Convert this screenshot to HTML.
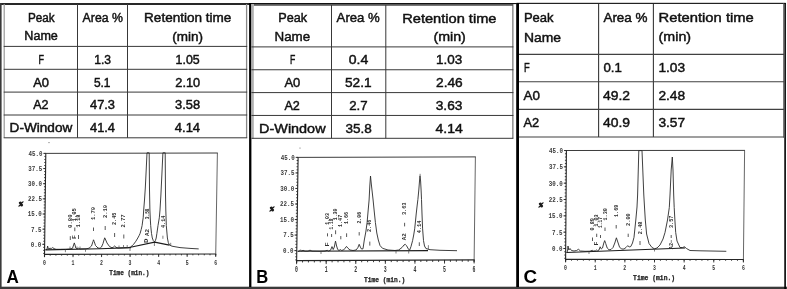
<!DOCTYPE html>
<html><head><meta charset="utf-8"><title>Figure</title>
<style>html,body{margin:0;padding:0;background:#fff;}svg{display:block;}</style></head>
<body><svg width="787" height="289" viewBox="0 0 787 289">
<rect x="0" y="0" width="787" height="289" fill="#fff"/>
<rect x="0.00" y="3.10" width="250.00" height="1.80" fill="#111"/>
<rect x="250.00" y="3.00" width="266.50" height="1.10" fill="#111"/>
<rect x="253.50" y="4.00" width="259.50" height="1.80" fill="#585858"/>
<rect x="516.50" y="2.80" width="269.20" height="1.20" fill="#222"/>
<rect x="0.00" y="3.10" width="1.60" height="285.90" fill="#3a3a3a"/>
<rect x="0.00" y="286.70" width="787.00" height="2.30" fill="#3a3a3a"/>
<rect x="784.30" y="3.00" width="1.60" height="286.00" fill="#000"/>
<rect x="783.10" y="3.50" width="1.20" height="134.10" fill="#6a6a6a"/>
<rect x="249.10" y="3.00" width="2.30" height="284.00" fill="#000"/>
<rect x="516.20" y="3.00" width="2.80" height="284.00" fill="#000"/>
<line x1="4.20" y1="4.00" x2="4.20" y2="137.80" stroke="#999" stroke-width="1.2"/>
<line x1="246.60" y1="4.00" x2="246.60" y2="137.80" stroke="#888" stroke-width="1.3"/>
<line x1="77.50" y1="4.00" x2="77.50" y2="137.80" stroke="#383838" stroke-width="1.0"/>
<line x1="127.50" y1="4.00" x2="127.50" y2="137.80" stroke="#383838" stroke-width="1.0"/>
<line x1="3.70" y1="46.40" x2="247.20" y2="46.40" stroke="#383838" stroke-width="1.0"/>
<line x1="3.70" y1="69.30" x2="247.20" y2="69.30" stroke="#383838" stroke-width="1.0"/>
<line x1="3.70" y1="92.10" x2="247.20" y2="92.10" stroke="#383838" stroke-width="1.0"/>
<line x1="3.70" y1="115.00" x2="247.20" y2="115.00" stroke="#383838" stroke-width="1.0"/>
<line x1="3.70" y1="137.80" x2="247.20" y2="137.80" stroke="#383838" stroke-width="1.0"/>
<text x="27.90" y="21.60" font-family='"Liberation Sans", sans-serif' font-weight="normal" font-size="12.3" fill="#111" textLength="26.68" lengthAdjust="spacingAndGlyphs" stroke="#111" stroke-width="0.45">Peak</text>
<text x="24.30" y="40.30" font-family='"Liberation Sans", sans-serif' font-weight="normal" font-size="12.3" fill="#111" textLength="33.59" lengthAdjust="spacingAndGlyphs" stroke="#111" stroke-width="0.45">Name</text>
<text x="82.60" y="21.60" font-family='"Liberation Sans", sans-serif' font-weight="normal" font-size="12.3" fill="#111" textLength="40.30" lengthAdjust="spacingAndGlyphs" stroke="#111" stroke-width="0.45">Area %</text>
<text x="144.10" y="21.60" font-family='"Liberation Sans", sans-serif' font-weight="normal" font-size="12.3" fill="#111" textLength="87.20" lengthAdjust="spacingAndGlyphs" stroke="#111" stroke-width="0.45">Retention time</text>
<text x="172.30" y="40.50" font-family='"Liberation Sans", sans-serif' font-weight="normal" font-size="12.3" fill="#111" textLength="30.71" lengthAdjust="spacingAndGlyphs" stroke="#111" stroke-width="0.45">(min)</text>
<text x="38.50" y="63.60" font-family='"Liberation Sans", sans-serif' font-weight="normal" font-size="12.3" fill="#111" textLength="5.50" lengthAdjust="spacingAndGlyphs" stroke="#111" stroke-width="0.45">F</text>
<text x="94.20" y="63.60" font-family='"Liberation Sans", sans-serif' font-weight="normal" font-size="12.3" fill="#111" textLength="16.80" lengthAdjust="spacingAndGlyphs" stroke="#111" stroke-width="0.45">1.3</text>
<text x="175.60" y="63.60" font-family='"Liberation Sans", sans-serif' font-weight="normal" font-size="12.3" fill="#111" textLength="24.10" lengthAdjust="spacingAndGlyphs" stroke="#111" stroke-width="0.45">1.05</text>
<text x="33.20" y="86.50" font-family='"Liberation Sans", sans-serif' font-weight="normal" font-size="12.3" fill="#111" textLength="15.80" lengthAdjust="spacingAndGlyphs" stroke="#111" stroke-width="0.45">A0</text>
<text x="93.90" y="86.50" font-family='"Liberation Sans", sans-serif' font-weight="normal" font-size="12.3" fill="#111" textLength="16.60" lengthAdjust="spacingAndGlyphs" stroke="#111" stroke-width="0.45">5.1</text>
<text x="175.30" y="86.50" font-family='"Liberation Sans", sans-serif' font-weight="normal" font-size="12.3" fill="#111" textLength="24.80" lengthAdjust="spacingAndGlyphs" stroke="#111" stroke-width="0.45">2.10</text>
<text x="33.20" y="109.30" font-family='"Liberation Sans", sans-serif' font-weight="normal" font-size="12.3" fill="#111" textLength="15.30" lengthAdjust="spacingAndGlyphs" stroke="#111" stroke-width="0.45">A2</text>
<text x="90.00" y="109.30" font-family='"Liberation Sans", sans-serif' font-weight="normal" font-size="12.3" fill="#111" textLength="25.00" lengthAdjust="spacingAndGlyphs" stroke="#111" stroke-width="0.45">47.3</text>
<text x="175.10" y="109.30" font-family='"Liberation Sans", sans-serif' font-weight="normal" font-size="12.3" fill="#111" textLength="25.00" lengthAdjust="spacingAndGlyphs" stroke="#111" stroke-width="0.45">3.58</text>
<text x="9.60" y="132.40" font-family='"Liberation Sans", sans-serif' font-weight="normal" font-size="12.3" fill="#111" textLength="62.66" lengthAdjust="spacingAndGlyphs" stroke="#111" stroke-width="0.45">D-Window</text>
<text x="90.00" y="132.40" font-family='"Liberation Sans", sans-serif' font-weight="normal" font-size="12.3" fill="#111" textLength="25.00" lengthAdjust="spacingAndGlyphs" stroke="#111" stroke-width="0.45">41.4</text>
<text x="174.80" y="132.40" font-family='"Liberation Sans", sans-serif' font-weight="normal" font-size="12.3" fill="#111" textLength="25.30" lengthAdjust="spacingAndGlyphs" stroke="#111" stroke-width="0.45">4.14</text>
<rect x="251.40" y="4.00" width="2.40" height="134.80" fill="#b0b0b0"/>
<line x1="512.90" y1="4.00" x2="512.90" y2="138.30" stroke="#555" stroke-width="1.0"/>
<line x1="331.50" y1="5.00" x2="331.50" y2="138.30" stroke="#383838" stroke-width="1.0"/>
<line x1="385.80" y1="5.00" x2="385.80" y2="138.30" stroke="#383838" stroke-width="1.0"/>
<line x1="251.40" y1="46.90" x2="513.40" y2="46.90" stroke="#383838" stroke-width="1.0"/>
<line x1="251.40" y1="69.75" x2="513.40" y2="69.75" stroke="#383838" stroke-width="1.0"/>
<line x1="251.40" y1="92.60" x2="513.40" y2="92.60" stroke="#383838" stroke-width="1.0"/>
<line x1="251.40" y1="115.45" x2="513.40" y2="115.45" stroke="#383838" stroke-width="1.0"/>
<line x1="251.40" y1="138.30" x2="513.40" y2="138.30" stroke="#383838" stroke-width="1.0"/>
<text x="278.20" y="22.30" font-family='"Liberation Sans", sans-serif' font-weight="normal" font-size="13.1" fill="#111" textLength="28.88" lengthAdjust="spacingAndGlyphs" stroke="#111" stroke-width="0.45">Peak</text>
<text x="274.50" y="41.00" font-family='"Liberation Sans", sans-serif' font-weight="normal" font-size="13.1" fill="#111" textLength="35.69" lengthAdjust="spacingAndGlyphs" stroke="#111" stroke-width="0.45">Name</text>
<text x="336.60" y="22.40" font-family='"Liberation Sans", sans-serif' font-weight="normal" font-size="13.1" fill="#111" textLength="43.20" lengthAdjust="spacingAndGlyphs" stroke="#111" stroke-width="0.45">Area %</text>
<text x="402.20" y="22.50" font-family='"Liberation Sans", sans-serif' font-weight="normal" font-size="13.1" fill="#111" textLength="94.30" lengthAdjust="spacingAndGlyphs" stroke="#111" stroke-width="0.45">Retention time</text>
<text x="433.40" y="40.90" font-family='"Liberation Sans", sans-serif' font-weight="normal" font-size="13.1" fill="#111" textLength="32.41" lengthAdjust="spacingAndGlyphs" stroke="#111" stroke-width="0.45">(min)</text>
<text x="289.90" y="64.10" font-family='"Liberation Sans", sans-serif' font-weight="normal" font-size="13.1" fill="#111" textLength="5.30" lengthAdjust="spacingAndGlyphs" stroke="#111" stroke-width="0.45">F</text>
<text x="348.80" y="64.10" font-family='"Liberation Sans", sans-serif' font-weight="normal" font-size="13.1" fill="#111" textLength="19.50" lengthAdjust="spacingAndGlyphs" stroke="#111" stroke-width="0.45">0.4</text>
<text x="436.00" y="64.10" font-family='"Liberation Sans", sans-serif' font-weight="normal" font-size="13.1" fill="#111" textLength="26.20" lengthAdjust="spacingAndGlyphs" stroke="#111" stroke-width="0.45">1.03</text>
<text x="284.40" y="87.30" font-family='"Liberation Sans", sans-serif' font-weight="normal" font-size="13.1" fill="#111" textLength="15.90" lengthAdjust="spacingAndGlyphs" stroke="#111" stroke-width="0.45">A0</text>
<text x="345.00" y="87.30" font-family='"Liberation Sans", sans-serif' font-weight="normal" font-size="13.1" fill="#111" textLength="26.60" lengthAdjust="spacingAndGlyphs" stroke="#111" stroke-width="0.45">52.1</text>
<text x="436.00" y="87.30" font-family='"Liberation Sans", sans-serif' font-weight="normal" font-size="13.1" fill="#111" textLength="26.70" lengthAdjust="spacingAndGlyphs" stroke="#111" stroke-width="0.45">2.46</text>
<text x="284.40" y="109.70" font-family='"Liberation Sans", sans-serif' font-weight="normal" font-size="13.1" fill="#111" textLength="15.40" lengthAdjust="spacingAndGlyphs" stroke="#111" stroke-width="0.45">A2</text>
<text x="349.20" y="109.70" font-family='"Liberation Sans", sans-serif' font-weight="normal" font-size="13.1" fill="#111" textLength="18.40" lengthAdjust="spacingAndGlyphs" stroke="#111" stroke-width="0.45">2.7</text>
<text x="435.70" y="109.70" font-family='"Liberation Sans", sans-serif' font-weight="normal" font-size="13.1" fill="#111" textLength="26.70" lengthAdjust="spacingAndGlyphs" stroke="#111" stroke-width="0.45">3.63</text>
<text x="259.10" y="132.80" font-family='"Liberation Sans", sans-serif' font-weight="normal" font-size="13.1" fill="#111" textLength="66.45" lengthAdjust="spacingAndGlyphs" stroke="#111" stroke-width="0.45">D-Window</text>
<text x="345.50" y="132.80" font-family='"Liberation Sans", sans-serif' font-weight="normal" font-size="13.1" fill="#111" textLength="26.30" lengthAdjust="spacingAndGlyphs" stroke="#111" stroke-width="0.45">35.8</text>
<text x="435.50" y="132.80" font-family='"Liberation Sans", sans-serif' font-weight="normal" font-size="13.1" fill="#111" textLength="27.20" lengthAdjust="spacingAndGlyphs" stroke="#111" stroke-width="0.45">4.14</text>
<line x1="598.60" y1="4.00" x2="598.60" y2="137.00" stroke="#383838" stroke-width="1.1"/>
<line x1="653.40" y1="4.00" x2="653.40" y2="137.00" stroke="#383838" stroke-width="1.1"/>
<line x1="519.00" y1="54.35" x2="784.00" y2="54.35" stroke="#404040" stroke-width="1.2"/>
<line x1="519.00" y1="81.75" x2="784.00" y2="81.75" stroke="#404040" stroke-width="1.2"/>
<line x1="519.00" y1="109.40" x2="784.00" y2="109.40" stroke="#404040" stroke-width="1.2"/>
<line x1="519.00" y1="137.00" x2="784.00" y2="137.00" stroke="#404040" stroke-width="1.2"/>
<text x="523.90" y="21.80" font-family='"Liberation Sans", sans-serif' font-weight="normal" font-size="13.4" fill="#111" textLength="29.68" lengthAdjust="spacingAndGlyphs" stroke="#111" stroke-width="0.45">Peak</text>
<text x="523.90" y="41.60" font-family='"Liberation Sans", sans-serif' font-weight="normal" font-size="13.4" fill="#111" textLength="37.09" lengthAdjust="spacingAndGlyphs" stroke="#111" stroke-width="0.45">Name</text>
<text x="603.40" y="21.80" font-family='"Liberation Sans", sans-serif' font-weight="normal" font-size="13.4" fill="#111" textLength="44.20" lengthAdjust="spacingAndGlyphs" stroke="#111" stroke-width="0.45">Area %</text>
<text x="658.60" y="21.80" font-family='"Liberation Sans", sans-serif' font-weight="normal" font-size="13.4" fill="#111" textLength="95.20" lengthAdjust="spacingAndGlyphs" stroke="#111" stroke-width="0.45">Retention time</text>
<text x="658.60" y="41.40" font-family='"Liberation Sans", sans-serif' font-weight="normal" font-size="13.4" fill="#111" textLength="32.51" lengthAdjust="spacingAndGlyphs" stroke="#111" stroke-width="0.45">(min)</text>
<text x="523.90" y="72.00" font-family='"Liberation Sans", sans-serif' font-weight="normal" font-size="13.4" fill="#111" textLength="5.70" lengthAdjust="spacingAndGlyphs" stroke="#111" stroke-width="0.45">F</text>
<text x="603.40" y="72.00" font-family='"Liberation Sans", sans-serif' font-weight="normal" font-size="13.4" fill="#111" textLength="18.40" lengthAdjust="spacingAndGlyphs" stroke="#111" stroke-width="0.45">0.1</text>
<text x="658.40" y="72.00" font-family='"Liberation Sans", sans-serif' font-weight="normal" font-size="13.4" fill="#111" textLength="26.70" lengthAdjust="spacingAndGlyphs" stroke="#111" stroke-width="0.45">1.03</text>
<text x="523.50" y="99.80" font-family='"Liberation Sans", sans-serif' font-weight="normal" font-size="13.4" fill="#111" textLength="16.40" lengthAdjust="spacingAndGlyphs" stroke="#111" stroke-width="0.45">A0</text>
<text x="602.90" y="99.80" font-family='"Liberation Sans", sans-serif' font-weight="normal" font-size="13.4" fill="#111" textLength="27.10" lengthAdjust="spacingAndGlyphs" stroke="#111" stroke-width="0.45">49.2</text>
<text x="658.40" y="99.80" font-family='"Liberation Sans", sans-serif' font-weight="normal" font-size="13.4" fill="#111" textLength="26.70" lengthAdjust="spacingAndGlyphs" stroke="#111" stroke-width="0.45">2.48</text>
<text x="523.50" y="127.30" font-family='"Liberation Sans", sans-serif' font-weight="normal" font-size="13.4" fill="#111" textLength="15.70" lengthAdjust="spacingAndGlyphs" stroke="#111" stroke-width="0.45">A2</text>
<text x="602.90" y="127.30" font-family='"Liberation Sans", sans-serif' font-weight="normal" font-size="13.4" fill="#111" textLength="27.10" lengthAdjust="spacingAndGlyphs" stroke="#111" stroke-width="0.45">40.9</text>
<text x="658.40" y="127.30" font-family='"Liberation Sans", sans-serif' font-weight="normal" font-size="13.4" fill="#111" textLength="26.70" lengthAdjust="spacingAndGlyphs" stroke="#111" stroke-width="0.45">3.57</text>
<text x="6.50" y="282.60" font-family='"Liberation Sans", sans-serif' font-weight="bold" font-size="18.4" fill="#000" textLength="12.30" lengthAdjust="spacingAndGlyphs">A</text>
<text x="256.20" y="283.00" font-family='"Liberation Sans", sans-serif' font-weight="bold" font-size="17.6" fill="#000" textLength="12.00" lengthAdjust="spacingAndGlyphs">B</text>
<text x="523.60" y="282.80" font-family='"Liberation Sans", sans-serif' font-weight="bold" font-size="18.4" fill="#000" textLength="13.60" lengthAdjust="spacingAndGlyphs">C</text>
<line x1="43.40" y1="153.40" x2="217.80" y2="153.00" stroke="#262626" stroke-width="0.9"/>
<line x1="45.80" y1="153.40" x2="44.50" y2="256.80" stroke="#262626" stroke-width="1.1"/>
<line x1="44.00" y1="254.40" x2="216.20" y2="254.00" stroke="#262626" stroke-width="1.15"/>
<line x1="217.40" y1="153.00" x2="215.70" y2="256.40" stroke="#4a4a4a" stroke-width="0.85"/>
<text x="28.50" y="155.80" font-family='"Liberation Mono", monospace' font-weight="bold" font-size="6.9" fill="#3a3a3a" textLength="14.00" lengthAdjust="spacingAndGlyphs">45.0</text>
<line x1="43.20" y1="168.55" x2="45.60" y2="168.55" stroke="#262626" stroke-width="0.9"/>
<text x="28.30" y="170.95" font-family='"Liberation Mono", monospace' font-weight="bold" font-size="6.9" fill="#3a3a3a" textLength="14.00" lengthAdjust="spacingAndGlyphs">37.5</text>
<line x1="43.01" y1="183.70" x2="45.41" y2="183.70" stroke="#262626" stroke-width="0.9"/>
<text x="28.11" y="186.10" font-family='"Liberation Mono", monospace' font-weight="bold" font-size="6.9" fill="#3a3a3a" textLength="14.00" lengthAdjust="spacingAndGlyphs">30.0</text>
<line x1="42.81" y1="198.85" x2="45.21" y2="198.85" stroke="#262626" stroke-width="0.9"/>
<text x="27.91" y="201.25" font-family='"Liberation Mono", monospace' font-weight="bold" font-size="6.9" fill="#3a3a3a" textLength="14.00" lengthAdjust="spacingAndGlyphs">22.5</text>
<line x1="42.62" y1="214.00" x2="45.02" y2="214.00" stroke="#262626" stroke-width="0.9"/>
<text x="27.72" y="216.40" font-family='"Liberation Mono", monospace' font-weight="bold" font-size="6.9" fill="#3a3a3a" textLength="14.00" lengthAdjust="spacingAndGlyphs">15.0</text>
<line x1="42.43" y1="229.15" x2="44.83" y2="229.15" stroke="#262626" stroke-width="0.9"/>
<text x="31.03" y="231.55" font-family='"Liberation Mono", monospace' font-weight="bold" font-size="6.9" fill="#3a3a3a" textLength="10.50" lengthAdjust="spacingAndGlyphs">7.5</text>
<line x1="42.23" y1="244.30" x2="44.63" y2="244.30" stroke="#262626" stroke-width="0.9"/>
<text x="30.83" y="246.70" font-family='"Liberation Mono", monospace' font-weight="bold" font-size="6.9" fill="#3a3a3a" textLength="10.50" lengthAdjust="spacingAndGlyphs">0.0</text>
<line x1="44.40" y1="153.40" x2="45.80" y2="153.40" stroke="#2a2a2a" stroke-width="0.9"/>
<line x1="44.36" y1="156.43" x2="45.76" y2="156.43" stroke="#2a2a2a" stroke-width="0.9"/>
<line x1="44.32" y1="159.46" x2="45.72" y2="159.46" stroke="#2a2a2a" stroke-width="0.9"/>
<line x1="44.28" y1="162.49" x2="45.68" y2="162.49" stroke="#2a2a2a" stroke-width="0.9"/>
<line x1="44.24" y1="165.52" x2="45.64" y2="165.52" stroke="#2a2a2a" stroke-width="0.9"/>
<line x1="44.20" y1="168.55" x2="45.60" y2="168.55" stroke="#2a2a2a" stroke-width="0.9"/>
<line x1="44.17" y1="171.58" x2="45.57" y2="171.58" stroke="#2a2a2a" stroke-width="0.9"/>
<line x1="44.13" y1="174.61" x2="45.53" y2="174.61" stroke="#2a2a2a" stroke-width="0.9"/>
<line x1="44.09" y1="177.64" x2="45.49" y2="177.64" stroke="#2a2a2a" stroke-width="0.9"/>
<line x1="44.05" y1="180.67" x2="45.45" y2="180.67" stroke="#2a2a2a" stroke-width="0.9"/>
<line x1="44.01" y1="183.70" x2="45.41" y2="183.70" stroke="#2a2a2a" stroke-width="0.9"/>
<line x1="43.97" y1="186.73" x2="45.37" y2="186.73" stroke="#2a2a2a" stroke-width="0.9"/>
<line x1="43.93" y1="189.76" x2="45.33" y2="189.76" stroke="#2a2a2a" stroke-width="0.9"/>
<line x1="43.89" y1="192.79" x2="45.29" y2="192.79" stroke="#2a2a2a" stroke-width="0.9"/>
<line x1="43.85" y1="195.82" x2="45.25" y2="195.82" stroke="#2a2a2a" stroke-width="0.9"/>
<line x1="43.81" y1="198.85" x2="45.21" y2="198.85" stroke="#2a2a2a" stroke-width="0.9"/>
<line x1="43.78" y1="201.88" x2="45.18" y2="201.88" stroke="#2a2a2a" stroke-width="0.9"/>
<line x1="43.74" y1="204.91" x2="45.14" y2="204.91" stroke="#2a2a2a" stroke-width="0.9"/>
<line x1="43.70" y1="207.94" x2="45.10" y2="207.94" stroke="#2a2a2a" stroke-width="0.9"/>
<line x1="43.66" y1="210.97" x2="45.06" y2="210.97" stroke="#2a2a2a" stroke-width="0.9"/>
<line x1="43.62" y1="214.00" x2="45.02" y2="214.00" stroke="#2a2a2a" stroke-width="0.9"/>
<line x1="43.58" y1="217.03" x2="44.98" y2="217.03" stroke="#2a2a2a" stroke-width="0.9"/>
<line x1="43.54" y1="220.06" x2="44.94" y2="220.06" stroke="#2a2a2a" stroke-width="0.9"/>
<line x1="43.50" y1="223.09" x2="44.90" y2="223.09" stroke="#2a2a2a" stroke-width="0.9"/>
<line x1="43.46" y1="226.12" x2="44.86" y2="226.12" stroke="#2a2a2a" stroke-width="0.9"/>
<line x1="43.43" y1="229.15" x2="44.83" y2="229.15" stroke="#2a2a2a" stroke-width="0.9"/>
<line x1="43.39" y1="232.18" x2="44.79" y2="232.18" stroke="#2a2a2a" stroke-width="0.9"/>
<line x1="43.35" y1="235.21" x2="44.75" y2="235.21" stroke="#2a2a2a" stroke-width="0.9"/>
<line x1="43.31" y1="238.24" x2="44.71" y2="238.24" stroke="#2a2a2a" stroke-width="0.9"/>
<line x1="43.27" y1="241.27" x2="44.67" y2="241.27" stroke="#2a2a2a" stroke-width="0.9"/>
<line x1="43.23" y1="244.30" x2="44.63" y2="244.30" stroke="#2a2a2a" stroke-width="0.9"/>
<line x1="43.19" y1="247.33" x2="44.59" y2="247.33" stroke="#2a2a2a" stroke-width="0.9"/>
<line x1="43.15" y1="250.36" x2="44.55" y2="250.36" stroke="#2a2a2a" stroke-width="0.9"/>
<line x1="43.11" y1="253.39" x2="44.51" y2="253.39" stroke="#2a2a2a" stroke-width="0.9"/>
<line x1="44.50" y1="254.40" x2="44.50" y2="257.20" stroke="#262626" stroke-width="0.9"/>
<text x="43.00" y="264.75" font-family='"Liberation Mono", monospace' font-weight="bold" font-size="7.0" fill="#333" textLength="2.90" lengthAdjust="spacingAndGlyphs">0</text>
<line x1="73.03" y1="254.33" x2="73.03" y2="257.13" stroke="#262626" stroke-width="0.9"/>
<text x="71.53" y="264.75" font-family='"Liberation Mono", monospace' font-weight="bold" font-size="7.0" fill="#333" textLength="2.90" lengthAdjust="spacingAndGlyphs">1</text>
<line x1="101.57" y1="254.27" x2="101.57" y2="257.07" stroke="#262626" stroke-width="0.9"/>
<text x="100.07" y="264.75" font-family='"Liberation Mono", monospace' font-weight="bold" font-size="7.0" fill="#333" textLength="2.90" lengthAdjust="spacingAndGlyphs">2</text>
<line x1="130.10" y1="254.20" x2="130.10" y2="257.00" stroke="#262626" stroke-width="0.9"/>
<text x="128.60" y="264.75" font-family='"Liberation Mono", monospace' font-weight="bold" font-size="7.0" fill="#333" textLength="2.90" lengthAdjust="spacingAndGlyphs">3</text>
<line x1="158.63" y1="254.13" x2="158.63" y2="256.93" stroke="#262626" stroke-width="0.9"/>
<text x="157.13" y="264.75" font-family='"Liberation Mono", monospace' font-weight="bold" font-size="7.0" fill="#333" textLength="2.90" lengthAdjust="spacingAndGlyphs">4</text>
<line x1="187.17" y1="254.07" x2="187.17" y2="256.87" stroke="#262626" stroke-width="0.9"/>
<text x="185.67" y="264.75" font-family='"Liberation Mono", monospace' font-weight="bold" font-size="7.0" fill="#333" textLength="2.90" lengthAdjust="spacingAndGlyphs">5</text>
<line x1="215.70" y1="254.00" x2="215.70" y2="256.80" stroke="#262626" stroke-width="0.9"/>
<text x="214.20" y="264.75" font-family='"Liberation Mono", monospace' font-weight="bold" font-size="7.0" fill="#333" textLength="2.90" lengthAdjust="spacingAndGlyphs">6</text>
<line x1="44.50" y1="254.40" x2="44.50" y2="255.70" stroke="#2a2a2a" stroke-width="0.9"/>
<line x1="50.21" y1="254.39" x2="50.21" y2="255.69" stroke="#2a2a2a" stroke-width="0.9"/>
<line x1="55.91" y1="254.37" x2="55.91" y2="255.67" stroke="#2a2a2a" stroke-width="0.9"/>
<line x1="61.62" y1="254.36" x2="61.62" y2="255.66" stroke="#2a2a2a" stroke-width="0.9"/>
<line x1="67.33" y1="254.35" x2="67.33" y2="255.65" stroke="#2a2a2a" stroke-width="0.9"/>
<line x1="73.03" y1="254.33" x2="73.03" y2="255.63" stroke="#2a2a2a" stroke-width="0.9"/>
<line x1="78.74" y1="254.32" x2="78.74" y2="255.62" stroke="#2a2a2a" stroke-width="0.9"/>
<line x1="84.45" y1="254.31" x2="84.45" y2="255.61" stroke="#2a2a2a" stroke-width="0.9"/>
<line x1="90.15" y1="254.29" x2="90.15" y2="255.59" stroke="#2a2a2a" stroke-width="0.9"/>
<line x1="95.86" y1="254.28" x2="95.86" y2="255.58" stroke="#2a2a2a" stroke-width="0.9"/>
<line x1="101.57" y1="254.27" x2="101.57" y2="255.57" stroke="#2a2a2a" stroke-width="0.9"/>
<line x1="107.27" y1="254.25" x2="107.27" y2="255.55" stroke="#2a2a2a" stroke-width="0.9"/>
<line x1="112.98" y1="254.24" x2="112.98" y2="255.54" stroke="#2a2a2a" stroke-width="0.9"/>
<line x1="118.69" y1="254.23" x2="118.69" y2="255.53" stroke="#2a2a2a" stroke-width="0.9"/>
<line x1="124.39" y1="254.21" x2="124.39" y2="255.51" stroke="#2a2a2a" stroke-width="0.9"/>
<line x1="130.10" y1="254.20" x2="130.10" y2="255.50" stroke="#2a2a2a" stroke-width="0.9"/>
<line x1="135.81" y1="254.19" x2="135.81" y2="255.49" stroke="#2a2a2a" stroke-width="0.9"/>
<line x1="141.51" y1="254.17" x2="141.51" y2="255.47" stroke="#2a2a2a" stroke-width="0.9"/>
<line x1="147.22" y1="254.16" x2="147.22" y2="255.46" stroke="#2a2a2a" stroke-width="0.9"/>
<line x1="152.93" y1="254.15" x2="152.93" y2="255.45" stroke="#2a2a2a" stroke-width="0.9"/>
<line x1="158.63" y1="254.13" x2="158.63" y2="255.43" stroke="#2a2a2a" stroke-width="0.9"/>
<line x1="164.34" y1="254.12" x2="164.34" y2="255.42" stroke="#2a2a2a" stroke-width="0.9"/>
<line x1="170.05" y1="254.11" x2="170.05" y2="255.41" stroke="#2a2a2a" stroke-width="0.9"/>
<line x1="175.75" y1="254.09" x2="175.75" y2="255.39" stroke="#2a2a2a" stroke-width="0.9"/>
<line x1="181.46" y1="254.08" x2="181.46" y2="255.38" stroke="#2a2a2a" stroke-width="0.9"/>
<line x1="187.17" y1="254.07" x2="187.17" y2="255.37" stroke="#2a2a2a" stroke-width="0.9"/>
<line x1="192.87" y1="254.05" x2="192.87" y2="255.35" stroke="#2a2a2a" stroke-width="0.9"/>
<line x1="198.58" y1="254.04" x2="198.58" y2="255.34" stroke="#2a2a2a" stroke-width="0.9"/>
<line x1="204.29" y1="254.03" x2="204.29" y2="255.33" stroke="#2a2a2a" stroke-width="0.9"/>
<line x1="209.99" y1="254.01" x2="209.99" y2="255.31" stroke="#2a2a2a" stroke-width="0.9"/>
<line x1="215.70" y1="254.00" x2="215.70" y2="255.30" stroke="#2a2a2a" stroke-width="0.9"/>
<text x="109.30" y="275.20" font-family='"Liberation Mono", monospace' font-weight="bold" font-size="6.6" fill="#222" textLength="40.10" lengthAdjust="spacingAndGlyphs" stroke="#222" stroke-width="0.25">Time (min.)</text>
<text x="19.10" y="205.70" font-family='"Liberation Mono", monospace' font-weight="bold" font-size="5.4" fill="#1a1a1a" textLength="3.79" lengthAdjust="spacingAndGlyphs" font-style="italic" stroke="#1a1a1a" stroke-width="0.8">%</text>
<path d="M45.5 249.6 L47.0 249.4 L47.6 246.0 L48.3 248.8 L50.0 248.3 L51.5 248.4 L52.7 247.6 L54.0 248.6 L56.0 249.3 L66.0 249.3 L70.0 249.0 L72.5 248.3 L73.6 245.0 L74.3 242.9 L75.0 245.0 L75.8 248.0 L77.0 248.8 L78.5 248.2 L80.0 248.9 L86.0 248.8 L89.0 248.2 L91.5 246.0 L93.0 241.5 L93.5 239.8 L94.2 241.5 L95.5 245.5 L98.0 248.0 L100.0 248.3 L101.5 247.0 L103.0 243.5 L104.3 239.0 L104.7 237.8 L105.3 239.0 L107.0 243.0 L109.5 246.5 L112.0 247.8 L113.5 247.0 L114.6 246.0 L116.0 247.3 L118.0 248.0 L124.0 247.8 L128.0 247.7 L130.5 247.1 L132.0 245.9 L133.6 244.3 L135.9 241.2 L137.8 238.0 L139.1 235.6 L140.1 233.4 L141.2 229.5 L142.1 225.6 L142.7 221.0 L143.2 217.8 L143.7 210.0 L144.5 200.0 L145.3 188.0 L146.1 172.0 L147.0 152.8 L149.2 152.8 L149.5 190.0 L149.9 210.0 L150.3 219.0 L150.7 225.6 L151.5 233.4 L152.3 238.0 L153.3 240.6 L154.6 241.9 L155.5 240.3 L156.2 238.0 L156.9 233.4 L158.0 225.6 L159.3 217.8 L160.0 210.0 L160.9 195.0 L162.0 172.0 L162.9 152.8 L165.2 152.8 L165.5 195.0 L165.8 210.0 L166.3 225.6 L167.4 238.0 L168.3 242.5 L169.4 245.0 L172.0 246.2 L180.0 247.6 L190.0 248.4 L198.7 248.9" fill="none" stroke="#2a2a2a" stroke-width="0.9" stroke-linejoin="round"/>
<path d="M45.5 249.9 L100.0 248.7 L131.0 247.6" fill="none" stroke="#1c1c1c" stroke-width="1.1" stroke-linejoin="round"/>
<path d="M130.5 247.2 L154.6 242.1 L169.4 245.1" fill="none" stroke="#1c1c1c" stroke-width="1.1" stroke-linejoin="round"/>
<text transform="translate(71.85,227.90) rotate(-90)" font-family='"Liberation Mono", monospace' font-weight="bold" font-size="4.7" fill="#303030" textLength="13.40" lengthAdjust="spacingAndGlyphs">0.80</text>
<line x1="70.30" y1="236.20" x2="70.30" y2="240.00" stroke="#3a3a3a" stroke-width="0.85"/>
<text transform="translate(76.35,221.50) rotate(-90)" font-family='"Liberation Mono", monospace' font-weight="bold" font-size="4.7" fill="#303030" textLength="13.30" lengthAdjust="spacingAndGlyphs">1.05</text>
<line x1="74.80" y1="227.50" x2="74.80" y2="231.20" stroke="#3a3a3a" stroke-width="0.85"/>
<text transform="translate(80.05,227.50) rotate(-90)" font-family='"Liberation Mono", monospace' font-weight="bold" font-size="4.7" fill="#303030" textLength="13.00" lengthAdjust="spacingAndGlyphs">1.18</text>
<line x1="78.50" y1="235.00" x2="78.50" y2="239.00" stroke="#3a3a3a" stroke-width="0.85"/>
<text transform="translate(95.05,220.00) rotate(-90)" font-family='"Liberation Mono", monospace' font-weight="bold" font-size="4.7" fill="#303030" textLength="13.00" lengthAdjust="spacingAndGlyphs">1.70</text>
<line x1="93.50" y1="227.50" x2="93.50" y2="231.00" stroke="#3a3a3a" stroke-width="0.85"/>
<text transform="translate(106.75,218.00) rotate(-90)" font-family='"Liberation Mono", monospace' font-weight="bold" font-size="4.7" fill="#303030" textLength="13.00" lengthAdjust="spacingAndGlyphs">2.10</text>
<line x1="105.20" y1="226.00" x2="105.20" y2="230.00" stroke="#3a3a3a" stroke-width="0.85"/>
<text transform="translate(116.15,225.00) rotate(-90)" font-family='"Liberation Mono", monospace' font-weight="bold" font-size="4.7" fill="#303030" textLength="12.50" lengthAdjust="spacingAndGlyphs">2.45</text>
<line x1="114.60" y1="233.00" x2="114.60" y2="237.00" stroke="#3a3a3a" stroke-width="0.85"/>
<text transform="translate(125.35,227.50) rotate(-90)" font-family='"Liberation Mono", monospace' font-weight="bold" font-size="4.7" fill="#303030" textLength="13.00" lengthAdjust="spacingAndGlyphs">2.77</text>
<line x1="123.80" y1="234.50" x2="123.80" y2="238.50" stroke="#3a3a3a" stroke-width="0.85"/>
<text transform="translate(148.85,219.20) rotate(-90)" font-family='"Liberation Mono", monospace' font-weight="bold" font-size="4.7" fill="#303030" textLength="10.70" lengthAdjust="spacingAndGlyphs">3.58</text>
<text transform="translate(164.75,228.00) rotate(-90)" font-family='"Liberation Mono", monospace' font-weight="bold" font-size="4.7" fill="#303030" textLength="12.50" lengthAdjust="spacingAndGlyphs">4.14</text>
<text transform="translate(75.75,239.00) rotate(-90)" font-family='"Liberation Mono", monospace' font-weight="bold" font-size="4.7" fill="#303030" textLength="4.00" lengthAdjust="spacingAndGlyphs">F</text>
<text transform="translate(149.15,236.00) rotate(-90)" font-family='"Liberation Mono", monospace' font-weight="bold" font-size="4.7" fill="#303030" textLength="7.00" lengthAdjust="spacingAndGlyphs">A2</text>
<text transform="translate(148.45,243.00) rotate(-90)" font-family='"Liberation Mono", monospace' font-weight="bold" font-size="4.7" fill="#303030" textLength="4.50" lengthAdjust="spacingAndGlyphs">D</text>
<line x1="65.40" y1="249.60" x2="65.40" y2="252.20" stroke="#4a4a4a" stroke-width="0.7"/>
<line x1="85.50" y1="249.20" x2="85.50" y2="251.80" stroke="#4a4a4a" stroke-width="0.7"/>
<line x1="70.00" y1="246.50" x2="70.00" y2="249.30" stroke="#4a4a4a" stroke-width="0.7"/>
<line x1="77.00" y1="246.50" x2="77.00" y2="249.30" stroke="#4a4a4a" stroke-width="0.7"/>
<line x1="80.00" y1="246.50" x2="80.00" y2="249.30" stroke="#4a4a4a" stroke-width="0.7"/>
<line x1="119.00" y1="245.50" x2="119.00" y2="248.00" stroke="#4a4a4a" stroke-width="0.7"/>
<line x1="123.50" y1="245.00" x2="123.50" y2="247.60" stroke="#4a4a4a" stroke-width="0.7"/>
<line x1="127.20" y1="245.00" x2="127.20" y2="247.60" stroke="#4a4a4a" stroke-width="0.7"/>
<line x1="130.00" y1="248.20" x2="130.00" y2="251.00" stroke="#4a4a4a" stroke-width="0.7"/>
<line x1="154.40" y1="243.00" x2="154.40" y2="246.00" stroke="#4a4a4a" stroke-width="0.7"/>
<line x1="170.70" y1="242.80" x2="170.70" y2="245.50" stroke="#4a4a4a" stroke-width="0.7"/>
<line x1="162.90" y1="235.70" x2="162.90" y2="238.80" stroke="#4a4a4a" stroke-width="0.7"/>
<line x1="295.70" y1="157.40" x2="475.80" y2="156.90" stroke="#262626" stroke-width="0.9"/>
<line x1="298.10" y1="157.40" x2="296.60" y2="263.00" stroke="#262626" stroke-width="1.1"/>
<line x1="296.10" y1="260.60" x2="474.60" y2="259.85" stroke="#262626" stroke-width="1.15"/>
<line x1="475.40" y1="156.90" x2="474.10" y2="262.25" stroke="#4a4a4a" stroke-width="0.85"/>
<text x="280.80" y="159.80" font-family='"Liberation Mono", monospace' font-weight="bold" font-size="6.9" fill="#3a3a3a" textLength="14.00" lengthAdjust="spacingAndGlyphs">45.0</text>
<line x1="295.47" y1="172.93" x2="297.87" y2="172.93" stroke="#262626" stroke-width="0.9"/>
<text x="280.57" y="175.33" font-family='"Liberation Mono", monospace' font-weight="bold" font-size="6.9" fill="#3a3a3a" textLength="14.00" lengthAdjust="spacingAndGlyphs">37.5</text>
<line x1="295.25" y1="188.46" x2="297.65" y2="188.46" stroke="#262626" stroke-width="0.9"/>
<text x="280.35" y="190.86" font-family='"Liberation Mono", monospace' font-weight="bold" font-size="6.9" fill="#3a3a3a" textLength="14.00" lengthAdjust="spacingAndGlyphs">30.0</text>
<line x1="295.02" y1="203.99" x2="297.42" y2="203.99" stroke="#262626" stroke-width="0.9"/>
<text x="280.12" y="206.39" font-family='"Liberation Mono", monospace' font-weight="bold" font-size="6.9" fill="#3a3a3a" textLength="14.00" lengthAdjust="spacingAndGlyphs">22.5</text>
<line x1="294.80" y1="219.53" x2="297.20" y2="219.53" stroke="#262626" stroke-width="0.9"/>
<text x="279.90" y="221.93" font-family='"Liberation Mono", monospace' font-weight="bold" font-size="6.9" fill="#3a3a3a" textLength="14.00" lengthAdjust="spacingAndGlyphs">15.0</text>
<line x1="294.57" y1="235.06" x2="296.97" y2="235.06" stroke="#262626" stroke-width="0.9"/>
<text x="283.17" y="237.46" font-family='"Liberation Mono", monospace' font-weight="bold" font-size="6.9" fill="#3a3a3a" textLength="10.50" lengthAdjust="spacingAndGlyphs">7.5</text>
<line x1="294.35" y1="250.59" x2="296.75" y2="250.59" stroke="#262626" stroke-width="0.9"/>
<text x="282.95" y="252.99" font-family='"Liberation Mono", monospace' font-weight="bold" font-size="6.9" fill="#3a3a3a" textLength="10.50" lengthAdjust="spacingAndGlyphs">0.0</text>
<line x1="296.70" y1="157.40" x2="298.10" y2="157.40" stroke="#2a2a2a" stroke-width="0.9"/>
<line x1="296.65" y1="160.51" x2="298.05" y2="160.51" stroke="#2a2a2a" stroke-width="0.9"/>
<line x1="296.61" y1="163.61" x2="298.01" y2="163.61" stroke="#2a2a2a" stroke-width="0.9"/>
<line x1="296.56" y1="166.72" x2="297.96" y2="166.72" stroke="#2a2a2a" stroke-width="0.9"/>
<line x1="296.52" y1="169.83" x2="297.92" y2="169.83" stroke="#2a2a2a" stroke-width="0.9"/>
<line x1="296.47" y1="172.93" x2="297.87" y2="172.93" stroke="#2a2a2a" stroke-width="0.9"/>
<line x1="296.43" y1="176.04" x2="297.83" y2="176.04" stroke="#2a2a2a" stroke-width="0.9"/>
<line x1="296.38" y1="179.14" x2="297.78" y2="179.14" stroke="#2a2a2a" stroke-width="0.9"/>
<line x1="296.34" y1="182.25" x2="297.74" y2="182.25" stroke="#2a2a2a" stroke-width="0.9"/>
<line x1="296.29" y1="185.36" x2="297.69" y2="185.36" stroke="#2a2a2a" stroke-width="0.9"/>
<line x1="296.25" y1="188.46" x2="297.65" y2="188.46" stroke="#2a2a2a" stroke-width="0.9"/>
<line x1="296.20" y1="191.57" x2="297.60" y2="191.57" stroke="#2a2a2a" stroke-width="0.9"/>
<line x1="296.16" y1="194.68" x2="297.56" y2="194.68" stroke="#2a2a2a" stroke-width="0.9"/>
<line x1="296.11" y1="197.78" x2="297.51" y2="197.78" stroke="#2a2a2a" stroke-width="0.9"/>
<line x1="296.07" y1="200.89" x2="297.47" y2="200.89" stroke="#2a2a2a" stroke-width="0.9"/>
<line x1="296.02" y1="203.99" x2="297.42" y2="203.99" stroke="#2a2a2a" stroke-width="0.9"/>
<line x1="295.98" y1="207.10" x2="297.38" y2="207.10" stroke="#2a2a2a" stroke-width="0.9"/>
<line x1="295.93" y1="210.21" x2="297.33" y2="210.21" stroke="#2a2a2a" stroke-width="0.9"/>
<line x1="295.89" y1="213.31" x2="297.29" y2="213.31" stroke="#2a2a2a" stroke-width="0.9"/>
<line x1="295.84" y1="216.42" x2="297.24" y2="216.42" stroke="#2a2a2a" stroke-width="0.9"/>
<line x1="295.80" y1="219.53" x2="297.20" y2="219.53" stroke="#2a2a2a" stroke-width="0.9"/>
<line x1="295.75" y1="222.63" x2="297.15" y2="222.63" stroke="#2a2a2a" stroke-width="0.9"/>
<line x1="295.71" y1="225.74" x2="297.11" y2="225.74" stroke="#2a2a2a" stroke-width="0.9"/>
<line x1="295.66" y1="228.85" x2="297.06" y2="228.85" stroke="#2a2a2a" stroke-width="0.9"/>
<line x1="295.62" y1="231.95" x2="297.02" y2="231.95" stroke="#2a2a2a" stroke-width="0.9"/>
<line x1="295.57" y1="235.06" x2="296.97" y2="235.06" stroke="#2a2a2a" stroke-width="0.9"/>
<line x1="295.53" y1="238.16" x2="296.93" y2="238.16" stroke="#2a2a2a" stroke-width="0.9"/>
<line x1="295.48" y1="241.27" x2="296.88" y2="241.27" stroke="#2a2a2a" stroke-width="0.9"/>
<line x1="295.44" y1="244.38" x2="296.84" y2="244.38" stroke="#2a2a2a" stroke-width="0.9"/>
<line x1="295.39" y1="247.48" x2="296.79" y2="247.48" stroke="#2a2a2a" stroke-width="0.9"/>
<line x1="295.35" y1="250.59" x2="296.75" y2="250.59" stroke="#2a2a2a" stroke-width="0.9"/>
<line x1="295.30" y1="253.70" x2="296.70" y2="253.70" stroke="#2a2a2a" stroke-width="0.9"/>
<line x1="295.26" y1="256.80" x2="296.66" y2="256.80" stroke="#2a2a2a" stroke-width="0.9"/>
<line x1="295.21" y1="259.91" x2="296.61" y2="259.91" stroke="#2a2a2a" stroke-width="0.9"/>
<line x1="296.60" y1="260.60" x2="296.60" y2="264.20" stroke="#262626" stroke-width="0.9"/>
<text x="295.10" y="271.75" font-family='"Liberation Mono", monospace' font-weight="bold" font-size="8.2" fill="#333" textLength="2.90" lengthAdjust="spacingAndGlyphs">0</text>
<line x1="326.18" y1="260.48" x2="326.18" y2="264.08" stroke="#262626" stroke-width="0.9"/>
<text x="324.68" y="271.75" font-family='"Liberation Mono", monospace' font-weight="bold" font-size="8.2" fill="#333" textLength="2.90" lengthAdjust="spacingAndGlyphs">1</text>
<line x1="355.77" y1="260.35" x2="355.77" y2="263.95" stroke="#262626" stroke-width="0.9"/>
<text x="354.27" y="271.75" font-family='"Liberation Mono", monospace' font-weight="bold" font-size="8.2" fill="#333" textLength="2.90" lengthAdjust="spacingAndGlyphs">2</text>
<line x1="385.35" y1="260.23" x2="385.35" y2="263.83" stroke="#262626" stroke-width="0.9"/>
<text x="383.85" y="271.75" font-family='"Liberation Mono", monospace' font-weight="bold" font-size="8.2" fill="#333" textLength="2.90" lengthAdjust="spacingAndGlyphs">3</text>
<line x1="414.93" y1="260.10" x2="414.93" y2="263.70" stroke="#262626" stroke-width="0.9"/>
<text x="413.43" y="271.75" font-family='"Liberation Mono", monospace' font-weight="bold" font-size="8.2" fill="#333" textLength="2.90" lengthAdjust="spacingAndGlyphs">4</text>
<line x1="444.52" y1="259.98" x2="444.52" y2="263.58" stroke="#262626" stroke-width="0.9"/>
<text x="443.02" y="271.75" font-family='"Liberation Mono", monospace' font-weight="bold" font-size="8.2" fill="#333" textLength="2.90" lengthAdjust="spacingAndGlyphs">5</text>
<line x1="474.10" y1="259.85" x2="474.10" y2="263.45" stroke="#262626" stroke-width="0.9"/>
<text x="472.60" y="271.75" font-family='"Liberation Mono", monospace' font-weight="bold" font-size="8.2" fill="#333" textLength="2.90" lengthAdjust="spacingAndGlyphs">6</text>
<line x1="296.60" y1="260.60" x2="296.60" y2="262.50" stroke="#2a2a2a" stroke-width="0.9"/>
<line x1="302.52" y1="260.58" x2="302.52" y2="262.48" stroke="#2a2a2a" stroke-width="0.9"/>
<line x1="308.43" y1="260.55" x2="308.43" y2="262.45" stroke="#2a2a2a" stroke-width="0.9"/>
<line x1="314.35" y1="260.53" x2="314.35" y2="262.43" stroke="#2a2a2a" stroke-width="0.9"/>
<line x1="320.27" y1="260.50" x2="320.27" y2="262.40" stroke="#2a2a2a" stroke-width="0.9"/>
<line x1="326.18" y1="260.48" x2="326.18" y2="262.38" stroke="#2a2a2a" stroke-width="0.9"/>
<line x1="332.10" y1="260.45" x2="332.10" y2="262.35" stroke="#2a2a2a" stroke-width="0.9"/>
<line x1="338.02" y1="260.43" x2="338.02" y2="262.32" stroke="#2a2a2a" stroke-width="0.9"/>
<line x1="343.93" y1="260.40" x2="343.93" y2="262.30" stroke="#2a2a2a" stroke-width="0.9"/>
<line x1="349.85" y1="260.38" x2="349.85" y2="262.27" stroke="#2a2a2a" stroke-width="0.9"/>
<line x1="355.77" y1="260.35" x2="355.77" y2="262.25" stroke="#2a2a2a" stroke-width="0.9"/>
<line x1="361.68" y1="260.33" x2="361.68" y2="262.23" stroke="#2a2a2a" stroke-width="0.9"/>
<line x1="367.60" y1="260.30" x2="367.60" y2="262.20" stroke="#2a2a2a" stroke-width="0.9"/>
<line x1="373.52" y1="260.28" x2="373.52" y2="262.18" stroke="#2a2a2a" stroke-width="0.9"/>
<line x1="379.43" y1="260.25" x2="379.43" y2="262.15" stroke="#2a2a2a" stroke-width="0.9"/>
<line x1="385.35" y1="260.23" x2="385.35" y2="262.12" stroke="#2a2a2a" stroke-width="0.9"/>
<line x1="391.27" y1="260.20" x2="391.27" y2="262.10" stroke="#2a2a2a" stroke-width="0.9"/>
<line x1="397.18" y1="260.18" x2="397.18" y2="262.07" stroke="#2a2a2a" stroke-width="0.9"/>
<line x1="403.10" y1="260.15" x2="403.10" y2="262.05" stroke="#2a2a2a" stroke-width="0.9"/>
<line x1="409.02" y1="260.12" x2="409.02" y2="262.02" stroke="#2a2a2a" stroke-width="0.9"/>
<line x1="414.93" y1="260.10" x2="414.93" y2="262.00" stroke="#2a2a2a" stroke-width="0.9"/>
<line x1="420.85" y1="260.08" x2="420.85" y2="261.98" stroke="#2a2a2a" stroke-width="0.9"/>
<line x1="426.77" y1="260.05" x2="426.77" y2="261.95" stroke="#2a2a2a" stroke-width="0.9"/>
<line x1="432.68" y1="260.03" x2="432.68" y2="261.93" stroke="#2a2a2a" stroke-width="0.9"/>
<line x1="438.60" y1="260.00" x2="438.60" y2="261.90" stroke="#2a2a2a" stroke-width="0.9"/>
<line x1="444.52" y1="259.98" x2="444.52" y2="261.88" stroke="#2a2a2a" stroke-width="0.9"/>
<line x1="450.43" y1="259.95" x2="450.43" y2="261.85" stroke="#2a2a2a" stroke-width="0.9"/>
<line x1="456.35" y1="259.93" x2="456.35" y2="261.82" stroke="#2a2a2a" stroke-width="0.9"/>
<line x1="462.27" y1="259.90" x2="462.27" y2="261.80" stroke="#2a2a2a" stroke-width="0.9"/>
<line x1="468.18" y1="259.88" x2="468.18" y2="261.77" stroke="#2a2a2a" stroke-width="0.9"/>
<line x1="474.10" y1="259.85" x2="474.10" y2="261.75" stroke="#2a2a2a" stroke-width="0.9"/>
<text x="364.00" y="282.10" font-family='"Liberation Mono", monospace' font-weight="bold" font-size="6.6" fill="#222" textLength="41.30" lengthAdjust="spacingAndGlyphs" stroke="#222" stroke-width="0.25">Time (min.)</text>
<text x="270.10" y="210.90" font-family='"Liberation Mono", monospace' font-weight="bold" font-size="5.4" fill="#1a1a1a" textLength="3.79" lengthAdjust="spacingAndGlyphs" font-style="italic" stroke="#1a1a1a" stroke-width="0.8">%</text>
<path d="M298.0 251.3 L299.5 251.0 L300.5 249.8 L301.5 251.0 L303.0 250.3 L305.0 251.0 L308.0 251.0 L310.0 250.2 L312.0 251.0 L320.0 251.2 L325.0 251.0 L327.2 250.3 L328.5 251.0 L330.5 250.3 L332.0 246.6 L333.2 249.5 L334.3 247.0 L335.5 241.1 L336.6 246.0 L337.7 249.5 L339.0 250.5 L340.4 249.6 L341.5 250.4 L343.5 250.0 L345.0 248.3 L346.5 246.4 L348.0 248.3 L350.0 250.0 L353.0 250.5 L356.0 250.0 L357.8 247.8 L359.2 244.3 L360.4 247.2 L361.5 249.0 L363.0 248.8 L364.3 240.0 L365.8 232.0 L367.1 222.5 L368.2 210.0 L369.1 200.0 L369.8 186.0 L370.5 176.0 L371.3 184.0 L373.1 200.0 L374.2 211.0 L375.4 222.5 L376.8 233.0 L378.3 240.0 L380.0 245.5 L382.5 248.3 L388.0 250.0 L395.0 250.5 L398.7 250.0 L402.0 247.5 L404.0 245.0 L405.2 244.3 L406.4 245.5 L408.7 249.5 L409.7 250.0 L411.0 246.5 L412.6 240.6 L413.7 235.0 L414.7 228.8 L415.5 221.0 L416.2 214.0 L417.1 206.0 L417.9 199.4 L418.8 190.0 L419.5 181.0 L420.0 175.9 L420.6 181.0 L421.1 190.0 L421.5 199.4 L422.0 214.0 L422.6 228.8 L423.5 240.6 L424.5 246.0 L425.9 248.5 L430.0 249.7 L440.0 250.3 L457.0 250.7" fill="none" stroke="#2a2a2a" stroke-width="0.9" stroke-linejoin="round"/>
<path d="M297.5 251.3 L428.0 250.6" fill="none" stroke="#1c1c1c" stroke-width="1.1" stroke-linejoin="round"/>
<text transform="translate(329.05,224.80) rotate(-90)" font-family='"Liberation Mono", monospace' font-weight="bold" font-size="4.7" fill="#303030" textLength="11.80" lengthAdjust="spacingAndGlyphs">1.03</text>
<line x1="327.50" y1="233.30" x2="327.50" y2="236.40" stroke="#3a3a3a" stroke-width="0.85"/>
<text transform="translate(333.15,229.50) rotate(-90)" font-family='"Liberation Mono", monospace' font-weight="bold" font-size="4.7" fill="#303030" textLength="11.00" lengthAdjust="spacingAndGlyphs">1.18</text>
<line x1="331.60" y1="234.00" x2="331.60" y2="237.00" stroke="#3a3a3a" stroke-width="0.85"/>
<text transform="translate(337.15,220.30) rotate(-90)" font-family='"Liberation Mono", monospace' font-weight="bold" font-size="4.7" fill="#303030" textLength="11.80" lengthAdjust="spacingAndGlyphs">1.30</text>
<line x1="335.60" y1="230.30" x2="335.60" y2="234.20" stroke="#3a3a3a" stroke-width="0.85"/>
<text transform="translate(342.35,227.00) rotate(-90)" font-family='"Liberation Mono", monospace' font-weight="bold" font-size="4.7" fill="#303030" textLength="12.20" lengthAdjust="spacingAndGlyphs">1.47</text>
<line x1="340.80" y1="236.00" x2="340.80" y2="239.30" stroke="#3a3a3a" stroke-width="0.85"/>
<text transform="translate(348.15,224.10) rotate(-90)" font-family='"Liberation Mono", monospace' font-weight="bold" font-size="4.7" fill="#303030" textLength="12.20" lengthAdjust="spacingAndGlyphs">1.66</text>
<line x1="346.60" y1="233.30" x2="346.60" y2="237.00" stroke="#3a3a3a" stroke-width="0.85"/>
<text transform="translate(360.75,223.60) rotate(-90)" font-family='"Liberation Mono", monospace' font-weight="bold" font-size="4.7" fill="#303030" textLength="11.70" lengthAdjust="spacingAndGlyphs">2.06</text>
<line x1="359.20" y1="232.10" x2="359.20" y2="235.50" stroke="#3a3a3a" stroke-width="0.85"/>
<text transform="translate(371.35,232.00) rotate(-90)" font-family='"Liberation Mono", monospace' font-weight="bold" font-size="4.7" fill="#303030" textLength="12.30" lengthAdjust="spacingAndGlyphs">2.46</text>
<line x1="369.80" y1="241.60" x2="369.80" y2="245.60" stroke="#3a3a3a" stroke-width="0.85"/>
<text transform="translate(406.15,215.10) rotate(-90)" font-family='"Liberation Mono", monospace' font-weight="bold" font-size="4.7" fill="#303030" textLength="12.60" lengthAdjust="spacingAndGlyphs">3.63</text>
<line x1="404.60" y1="222.80" x2="404.60" y2="226.40" stroke="#3a3a3a" stroke-width="0.85"/>
<text transform="translate(406.25,240.30) rotate(-90)" font-family='"Liberation Mono", monospace' font-weight="bold" font-size="4.7" fill="#303030" textLength="7.00" lengthAdjust="spacingAndGlyphs">A2</text>
<text transform="translate(420.85,233.30) rotate(-90)" font-family='"Liberation Mono", monospace' font-weight="bold" font-size="4.7" fill="#303030" textLength="12.80" lengthAdjust="spacingAndGlyphs">4.14</text>
<line x1="419.30" y1="242.30" x2="419.30" y2="246.00" stroke="#3a3a3a" stroke-width="0.85"/>
<text transform="translate(329.15,246.50) rotate(-90)" font-family='"Liberation Mono", monospace' font-weight="bold" font-size="4.7" fill="#303030" textLength="4.30" lengthAdjust="spacingAndGlyphs">F</text>
<line x1="321.00" y1="251.50" x2="321.00" y2="254.00" stroke="#4a4a4a" stroke-width="0.7"/>
<line x1="396.00" y1="250.80" x2="396.00" y2="253.50" stroke="#4a4a4a" stroke-width="0.7"/>
<line x1="408.70" y1="250.80" x2="408.70" y2="253.50" stroke="#4a4a4a" stroke-width="0.7"/>
<line x1="428.40" y1="245.20" x2="428.40" y2="249.20" stroke="#4a4a4a" stroke-width="0.7"/>
<line x1="420.10" y1="173.80" x2="420.10" y2="176.00" stroke="#4a4a4a" stroke-width="0.7"/>
<line x1="564.00" y1="150.50" x2="745.00" y2="150.40" stroke="#262626" stroke-width="0.9"/>
<line x1="566.40" y1="150.50" x2="565.60" y2="261.80" stroke="#262626" stroke-width="1.1"/>
<line x1="565.10" y1="259.40" x2="743.90" y2="259.50" stroke="#262626" stroke-width="1.15"/>
<line x1="744.60" y1="150.40" x2="743.40" y2="261.90" stroke="#4a4a4a" stroke-width="0.85"/>
<text x="549.10" y="152.90" font-family='"Liberation Mono", monospace' font-weight="bold" font-size="6.9" fill="#3a3a3a" textLength="14.00" lengthAdjust="spacingAndGlyphs">45.0</text>
<line x1="563.88" y1="166.84" x2="566.28" y2="166.84" stroke="#262626" stroke-width="0.9"/>
<text x="548.98" y="169.24" font-family='"Liberation Mono", monospace' font-weight="bold" font-size="6.9" fill="#3a3a3a" textLength="14.00" lengthAdjust="spacingAndGlyphs">37.5</text>
<line x1="563.76" y1="183.17" x2="566.16" y2="183.17" stroke="#262626" stroke-width="0.9"/>
<text x="548.86" y="185.57" font-family='"Liberation Mono", monospace' font-weight="bold" font-size="6.9" fill="#3a3a3a" textLength="14.00" lengthAdjust="spacingAndGlyphs">30.0</text>
<line x1="563.64" y1="199.50" x2="566.04" y2="199.50" stroke="#262626" stroke-width="0.9"/>
<text x="548.74" y="201.91" font-family='"Liberation Mono", monospace' font-weight="bold" font-size="6.9" fill="#3a3a3a" textLength="14.00" lengthAdjust="spacingAndGlyphs">22.5</text>
<line x1="563.52" y1="215.84" x2="565.92" y2="215.84" stroke="#262626" stroke-width="0.9"/>
<text x="548.62" y="218.24" font-family='"Liberation Mono", monospace' font-weight="bold" font-size="6.9" fill="#3a3a3a" textLength="14.00" lengthAdjust="spacingAndGlyphs">15.0</text>
<line x1="563.40" y1="232.17" x2="565.80" y2="232.17" stroke="#262626" stroke-width="0.9"/>
<text x="552.00" y="234.57" font-family='"Liberation Mono", monospace' font-weight="bold" font-size="6.9" fill="#3a3a3a" textLength="10.50" lengthAdjust="spacingAndGlyphs">7.5</text>
<line x1="563.28" y1="248.51" x2="565.68" y2="248.51" stroke="#262626" stroke-width="0.9"/>
<text x="551.88" y="250.91" font-family='"Liberation Mono", monospace' font-weight="bold" font-size="6.9" fill="#3a3a3a" textLength="10.50" lengthAdjust="spacingAndGlyphs">0.0</text>
<line x1="565.00" y1="150.50" x2="566.40" y2="150.50" stroke="#2a2a2a" stroke-width="0.9"/>
<line x1="564.98" y1="153.77" x2="566.38" y2="153.77" stroke="#2a2a2a" stroke-width="0.9"/>
<line x1="564.95" y1="157.03" x2="566.35" y2="157.03" stroke="#2a2a2a" stroke-width="0.9"/>
<line x1="564.93" y1="160.30" x2="566.33" y2="160.30" stroke="#2a2a2a" stroke-width="0.9"/>
<line x1="564.90" y1="163.57" x2="566.30" y2="163.57" stroke="#2a2a2a" stroke-width="0.9"/>
<line x1="564.88" y1="166.84" x2="566.28" y2="166.84" stroke="#2a2a2a" stroke-width="0.9"/>
<line x1="564.86" y1="170.10" x2="566.26" y2="170.10" stroke="#2a2a2a" stroke-width="0.9"/>
<line x1="564.83" y1="173.37" x2="566.23" y2="173.37" stroke="#2a2a2a" stroke-width="0.9"/>
<line x1="564.81" y1="176.64" x2="566.21" y2="176.64" stroke="#2a2a2a" stroke-width="0.9"/>
<line x1="564.78" y1="179.90" x2="566.18" y2="179.90" stroke="#2a2a2a" stroke-width="0.9"/>
<line x1="564.76" y1="183.17" x2="566.16" y2="183.17" stroke="#2a2a2a" stroke-width="0.9"/>
<line x1="564.74" y1="186.44" x2="566.14" y2="186.44" stroke="#2a2a2a" stroke-width="0.9"/>
<line x1="564.71" y1="189.70" x2="566.11" y2="189.70" stroke="#2a2a2a" stroke-width="0.9"/>
<line x1="564.69" y1="192.97" x2="566.09" y2="192.97" stroke="#2a2a2a" stroke-width="0.9"/>
<line x1="564.66" y1="196.24" x2="566.06" y2="196.24" stroke="#2a2a2a" stroke-width="0.9"/>
<line x1="564.64" y1="199.50" x2="566.04" y2="199.50" stroke="#2a2a2a" stroke-width="0.9"/>
<line x1="564.62" y1="202.77" x2="566.02" y2="202.77" stroke="#2a2a2a" stroke-width="0.9"/>
<line x1="564.59" y1="206.04" x2="565.99" y2="206.04" stroke="#2a2a2a" stroke-width="0.9"/>
<line x1="564.57" y1="209.31" x2="565.97" y2="209.31" stroke="#2a2a2a" stroke-width="0.9"/>
<line x1="564.54" y1="212.57" x2="565.94" y2="212.57" stroke="#2a2a2a" stroke-width="0.9"/>
<line x1="564.52" y1="215.84" x2="565.92" y2="215.84" stroke="#2a2a2a" stroke-width="0.9"/>
<line x1="564.50" y1="219.11" x2="565.90" y2="219.11" stroke="#2a2a2a" stroke-width="0.9"/>
<line x1="564.47" y1="222.37" x2="565.87" y2="222.37" stroke="#2a2a2a" stroke-width="0.9"/>
<line x1="564.45" y1="225.64" x2="565.85" y2="225.64" stroke="#2a2a2a" stroke-width="0.9"/>
<line x1="564.42" y1="228.91" x2="565.82" y2="228.91" stroke="#2a2a2a" stroke-width="0.9"/>
<line x1="564.40" y1="232.17" x2="565.80" y2="232.17" stroke="#2a2a2a" stroke-width="0.9"/>
<line x1="564.38" y1="235.44" x2="565.78" y2="235.44" stroke="#2a2a2a" stroke-width="0.9"/>
<line x1="564.35" y1="238.71" x2="565.75" y2="238.71" stroke="#2a2a2a" stroke-width="0.9"/>
<line x1="564.33" y1="241.98" x2="565.73" y2="241.98" stroke="#2a2a2a" stroke-width="0.9"/>
<line x1="564.30" y1="245.24" x2="565.70" y2="245.24" stroke="#2a2a2a" stroke-width="0.9"/>
<line x1="564.28" y1="248.51" x2="565.68" y2="248.51" stroke="#2a2a2a" stroke-width="0.9"/>
<line x1="564.26" y1="251.78" x2="565.66" y2="251.78" stroke="#2a2a2a" stroke-width="0.9"/>
<line x1="564.23" y1="255.04" x2="565.63" y2="255.04" stroke="#2a2a2a" stroke-width="0.9"/>
<line x1="564.21" y1="258.31" x2="565.61" y2="258.31" stroke="#2a2a2a" stroke-width="0.9"/>
<line x1="565.60" y1="259.40" x2="565.60" y2="262.40" stroke="#262626" stroke-width="0.9"/>
<text x="564.10" y="269.75" font-family='"Liberation Mono", monospace' font-weight="bold" font-size="7.0" fill="#333" textLength="2.90" lengthAdjust="spacingAndGlyphs">0</text>
<line x1="595.23" y1="259.42" x2="595.23" y2="262.42" stroke="#262626" stroke-width="0.9"/>
<text x="593.73" y="269.75" font-family='"Liberation Mono", monospace' font-weight="bold" font-size="7.0" fill="#333" textLength="2.90" lengthAdjust="spacingAndGlyphs">1</text>
<line x1="624.87" y1="259.43" x2="624.87" y2="262.43" stroke="#262626" stroke-width="0.9"/>
<text x="623.37" y="269.75" font-family='"Liberation Mono", monospace' font-weight="bold" font-size="7.0" fill="#333" textLength="2.90" lengthAdjust="spacingAndGlyphs">2</text>
<line x1="654.50" y1="259.45" x2="654.50" y2="262.45" stroke="#262626" stroke-width="0.9"/>
<text x="653.00" y="269.75" font-family='"Liberation Mono", monospace' font-weight="bold" font-size="7.0" fill="#333" textLength="2.90" lengthAdjust="spacingAndGlyphs">3</text>
<line x1="684.13" y1="259.47" x2="684.13" y2="262.47" stroke="#262626" stroke-width="0.9"/>
<text x="682.63" y="269.75" font-family='"Liberation Mono", monospace' font-weight="bold" font-size="7.0" fill="#333" textLength="2.90" lengthAdjust="spacingAndGlyphs">4</text>
<line x1="713.77" y1="259.48" x2="713.77" y2="262.48" stroke="#262626" stroke-width="0.9"/>
<text x="712.27" y="269.75" font-family='"Liberation Mono", monospace' font-weight="bold" font-size="7.0" fill="#333" textLength="2.90" lengthAdjust="spacingAndGlyphs">5</text>
<line x1="743.40" y1="259.50" x2="743.40" y2="262.50" stroke="#262626" stroke-width="0.9"/>
<text x="741.90" y="269.75" font-family='"Liberation Mono", monospace' font-weight="bold" font-size="7.0" fill="#333" textLength="2.90" lengthAdjust="spacingAndGlyphs">6</text>
<line x1="565.60" y1="259.40" x2="565.60" y2="260.70" stroke="#2a2a2a" stroke-width="0.9"/>
<line x1="571.53" y1="259.40" x2="571.53" y2="260.70" stroke="#2a2a2a" stroke-width="0.9"/>
<line x1="577.45" y1="259.41" x2="577.45" y2="260.71" stroke="#2a2a2a" stroke-width="0.9"/>
<line x1="583.38" y1="259.41" x2="583.38" y2="260.71" stroke="#2a2a2a" stroke-width="0.9"/>
<line x1="589.31" y1="259.41" x2="589.31" y2="260.71" stroke="#2a2a2a" stroke-width="0.9"/>
<line x1="595.23" y1="259.42" x2="595.23" y2="260.72" stroke="#2a2a2a" stroke-width="0.9"/>
<line x1="601.16" y1="259.42" x2="601.16" y2="260.72" stroke="#2a2a2a" stroke-width="0.9"/>
<line x1="607.09" y1="259.42" x2="607.09" y2="260.72" stroke="#2a2a2a" stroke-width="0.9"/>
<line x1="613.01" y1="259.43" x2="613.01" y2="260.73" stroke="#2a2a2a" stroke-width="0.9"/>
<line x1="618.94" y1="259.43" x2="618.94" y2="260.73" stroke="#2a2a2a" stroke-width="0.9"/>
<line x1="624.87" y1="259.43" x2="624.87" y2="260.73" stroke="#2a2a2a" stroke-width="0.9"/>
<line x1="630.79" y1="259.44" x2="630.79" y2="260.74" stroke="#2a2a2a" stroke-width="0.9"/>
<line x1="636.72" y1="259.44" x2="636.72" y2="260.74" stroke="#2a2a2a" stroke-width="0.9"/>
<line x1="642.65" y1="259.44" x2="642.65" y2="260.74" stroke="#2a2a2a" stroke-width="0.9"/>
<line x1="648.57" y1="259.45" x2="648.57" y2="260.75" stroke="#2a2a2a" stroke-width="0.9"/>
<line x1="654.50" y1="259.45" x2="654.50" y2="260.75" stroke="#2a2a2a" stroke-width="0.9"/>
<line x1="660.43" y1="259.45" x2="660.43" y2="260.75" stroke="#2a2a2a" stroke-width="0.9"/>
<line x1="666.35" y1="259.46" x2="666.35" y2="260.76" stroke="#2a2a2a" stroke-width="0.9"/>
<line x1="672.28" y1="259.46" x2="672.28" y2="260.76" stroke="#2a2a2a" stroke-width="0.9"/>
<line x1="678.21" y1="259.46" x2="678.21" y2="260.76" stroke="#2a2a2a" stroke-width="0.9"/>
<line x1="684.13" y1="259.47" x2="684.13" y2="260.77" stroke="#2a2a2a" stroke-width="0.9"/>
<line x1="690.06" y1="259.47" x2="690.06" y2="260.77" stroke="#2a2a2a" stroke-width="0.9"/>
<line x1="695.99" y1="259.47" x2="695.99" y2="260.77" stroke="#2a2a2a" stroke-width="0.9"/>
<line x1="701.91" y1="259.48" x2="701.91" y2="260.78" stroke="#2a2a2a" stroke-width="0.9"/>
<line x1="707.84" y1="259.48" x2="707.84" y2="260.78" stroke="#2a2a2a" stroke-width="0.9"/>
<line x1="713.77" y1="259.48" x2="713.77" y2="260.78" stroke="#2a2a2a" stroke-width="0.9"/>
<line x1="719.69" y1="259.49" x2="719.69" y2="260.79" stroke="#2a2a2a" stroke-width="0.9"/>
<line x1="725.62" y1="259.49" x2="725.62" y2="260.79" stroke="#2a2a2a" stroke-width="0.9"/>
<line x1="731.55" y1="259.49" x2="731.55" y2="260.79" stroke="#2a2a2a" stroke-width="0.9"/>
<line x1="737.47" y1="259.50" x2="737.47" y2="260.80" stroke="#2a2a2a" stroke-width="0.9"/>
<line x1="743.40" y1="259.50" x2="743.40" y2="260.80" stroke="#2a2a2a" stroke-width="0.9"/>
<text x="633.10" y="280.30" font-family='"Liberation Mono", monospace' font-weight="bold" font-size="6.6" fill="#222" textLength="42.00" lengthAdjust="spacingAndGlyphs" stroke="#222" stroke-width="0.25">Time (min.)</text>
<text x="539.10" y="206.90" font-family='"Liberation Mono", monospace' font-weight="bold" font-size="5.4" fill="#1a1a1a" textLength="3.79" lengthAdjust="spacingAndGlyphs" font-style="italic" stroke="#1a1a1a" stroke-width="0.8">%</text>
<path d="M566.3 252.3 L567.5 251.5 L568.0 246.0 L568.8 250.0 L570.0 248.5 L571.5 250.5 L574.0 251.0 L576.5 250.5 L578.5 249.3 L580.5 251.0 L585.0 251.3 L590.0 251.2 L592.2 250.3 L593.5 251.0 L595.5 250.8 L596.5 250.0 L597.5 250.8 L599.0 250.0 L600.2 246.8 L601.3 249.0 L602.5 248.0 L603.8 243.0 L604.7 240.6 L605.7 243.5 L607.2 248.0 L609.0 249.8 L611.0 249.5 L613.0 247.5 L614.8 243.0 L616.4 237.8 L617.8 242.0 L619.5 247.0 L621.5 249.0 L624.0 249.0 L626.0 247.5 L627.8 245.6 L629.2 247.0 L630.8 246.5 L632.5 243.0 L634.0 237.3 L635.8 220.0 L637.0 207.0 L637.6 195.0 L638.8 150.6 L642.0 150.6 L643.8 195.0 L644.5 207.0 L645.3 220.0 L646.6 234.0 L649.0 243.5 L652.0 247.5 L654.5 248.8 L657.0 248.0 L660.0 245.0 L663.0 239.0 L665.0 232.5 L667.5 220.0 L669.3 207.5 L670.0 195.0 L671.2 170.0 L672.3 157.0 L673.0 170.0 L673.7 195.0 L674.2 207.5 L675.0 222.0 L675.7 232.5 L677.0 241.0 L680.0 247.5 L682.5 247.5 L684.5 246.8 L686.5 248.5 L690.0 250.5 L700.0 250.8 L726.3 251.3" fill="none" stroke="#2a2a2a" stroke-width="0.9" stroke-linejoin="round"/>
<path d="M566.5 252.5 L685.0 248.0" fill="none" stroke="#1c1c1c" stroke-width="1.1" stroke-linejoin="round"/>
<text transform="translate(594.05,230.50) rotate(-90)" font-family='"Liberation Mono", monospace' font-weight="bold" font-size="4.7" fill="#303030" textLength="12.30" lengthAdjust="spacingAndGlyphs">0.89</text>
<line x1="592.50" y1="237.50" x2="592.50" y2="241.00" stroke="#3a3a3a" stroke-width="0.85"/>
<text transform="translate(598.25,226.50) rotate(-90)" font-family='"Liberation Mono", monospace' font-weight="bold" font-size="4.7" fill="#303030" textLength="12.00" lengthAdjust="spacingAndGlyphs">1.03</text>
<line x1="596.70" y1="233.70" x2="596.70" y2="237.00" stroke="#3a3a3a" stroke-width="0.85"/>
<text transform="translate(602.05,228.00) rotate(-90)" font-family='"Liberation Mono", monospace' font-weight="bold" font-size="4.7" fill="#303030" textLength="11.00" lengthAdjust="spacingAndGlyphs">1.17</text>
<line x1="600.50" y1="235.00" x2="600.50" y2="238.00" stroke="#3a3a3a" stroke-width="0.85"/>
<text transform="translate(606.55,220.50) rotate(-90)" font-family='"Liberation Mono", monospace' font-weight="bold" font-size="4.7" fill="#303030" textLength="12.30" lengthAdjust="spacingAndGlyphs">1.30</text>
<line x1="605.00" y1="227.50" x2="605.00" y2="231.00" stroke="#3a3a3a" stroke-width="0.85"/>
<text transform="translate(617.75,217.00) rotate(-90)" font-family='"Liberation Mono", monospace' font-weight="bold" font-size="4.7" fill="#303030" textLength="12.30" lengthAdjust="spacingAndGlyphs">1.69</text>
<line x1="616.20" y1="225.00" x2="616.20" y2="228.50" stroke="#3a3a3a" stroke-width="0.85"/>
<text transform="translate(629.75,226.00) rotate(-90)" font-family='"Liberation Mono", monospace' font-weight="bold" font-size="4.7" fill="#303030" textLength="12.80" lengthAdjust="spacingAndGlyphs">2.09</text>
<line x1="628.20" y1="233.70" x2="628.20" y2="237.00" stroke="#3a3a3a" stroke-width="0.85"/>
<text transform="translate(641.55,234.20) rotate(-90)" font-family='"Liberation Mono", monospace' font-weight="bold" font-size="4.7" fill="#303030" textLength="12.70" lengthAdjust="spacingAndGlyphs">2.48</text>
<line x1="640.00" y1="241.00" x2="640.00" y2="245.00" stroke="#3a3a3a" stroke-width="0.85"/>
<text transform="translate(672.75,228.00) rotate(-90)" font-family='"Liberation Mono", monospace' font-weight="bold" font-size="4.7" fill="#303030" textLength="12.50" lengthAdjust="spacingAndGlyphs">3.57</text>
<line x1="671.20" y1="235.00" x2="671.20" y2="238.00" stroke="#3a3a3a" stroke-width="0.85"/>
<text transform="translate(672.95,249.20) rotate(-90)" font-family='"Liberation Mono", monospace' font-weight="bold" font-size="4.7" fill="#303030" textLength="6.20" lengthAdjust="spacingAndGlyphs">A2</text>
<text transform="translate(598.25,245.50) rotate(-90)" font-family='"Liberation Mono", monospace' font-weight="bold" font-size="4.7" fill="#303030" textLength="4.00" lengthAdjust="spacingAndGlyphs">F</text>
<line x1="589.00" y1="251.50" x2="589.00" y2="254.00" stroke="#4a4a4a" stroke-width="0.7"/>
<line x1="654.50" y1="248.80" x2="654.50" y2="251.50" stroke="#4a4a4a" stroke-width="0.7"/>
<line x1="671.30" y1="240.00" x2="671.30" y2="243.00" stroke="#4a4a4a" stroke-width="0.7"/>
<circle cx="49" cy="142.6" r="0.6" fill="#666"/><circle cx="300" cy="148" r="0.6" fill="#666"/>
</svg></body></html>
